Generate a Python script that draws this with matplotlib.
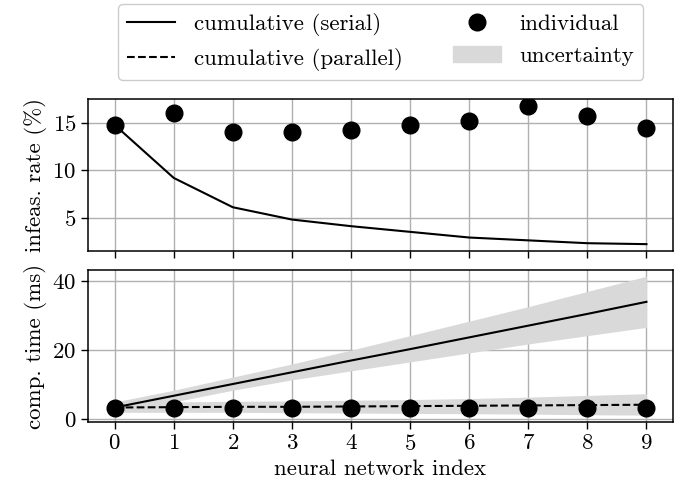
import numpy as np
import matplotlib
matplotlib.use("Agg")
import matplotlib.pyplot as plt
from matplotlib.lines import Line2D
from matplotlib.patches import Patch

plt.rcParams['font.family'] = 'serif'
plt.rcParams['font.serif'] = ['cmr10', 'DejaVu Serif']
plt.rcParams['mathtext.fontset'] = 'cm'
plt.rcParams['axes.formatter.use_mathtext'] = True
plt.rcParams['font.size'] = 16.5
plt.rcParams['axes.linewidth'] = 1.1
plt.rcParams['xtick.major.size'] = 5
plt.rcParams['ytick.major.size'] = 5
plt.rcParams['xtick.major.width'] = 1.0
plt.rcParams['ytick.major.width'] = 1.0

# data
nn_index = np.arange(10)
infeas_cumulative = [14.8, 9.2, 6.1, 4.8, 4.1, 3.5, 2.9, 2.6, 2.3, 2.2]
infeas_individual = [14.8, 16.1, 14.0, 14.1, 14.3, 14.8, 15.2, 16.8, 15.7, 14.5]

time_serial = [3.4, 6.8, 10.2, 13.6, 17.0, 20.3, 23.7, 27.1, 30.5, 34.0]
time_serial_lo = [2.0, 5.0, 8.4, 11.4, 14.0, 16.6, 19.2, 21.8, 24.2, 26.6]
time_serial_hi = [5.0, 8.4, 12.2, 16.0, 20.0, 24.2, 28.4, 32.6, 37.0, 41.4]
time_parallel = [3.4, 3.5, 3.6, 3.6, 3.7, 3.8, 3.9, 4.0, 4.1, 4.2]
time_parallel_lo = [2.0, 2.0, 2.0, 1.9, 1.8, 1.7, 1.6, 1.5, 1.3, 1.2]
time_parallel_hi = [5.0, 5.0, 5.2, 5.3, 5.5, 5.7, 6.0, 6.4, 6.9, 7.4]
time_individual = [3.4, 3.4, 3.4, 3.4, 3.4, 3.4, 3.4, 3.4, 3.4, 3.4]

band_col = '#d9d9d9'

fig, (ax1, ax2) = plt.subplots(2, 1, figsize=(6.91, 4.93), dpi=100, sharex=True)
fig.subplots_adjust(left=0.1274, right=0.974, top=0.799, bottom=0.144, hspace=0.125)

ax1.plot(nn_index, infeas_cumulative, 'k-', lw=1.5)
ax1.plot(nn_index, infeas_individual, 'ko', ms=12, ls='none')
ax1.set_ylabel('infeas. rate (%)')
ax1.set_yticks([5, 10, 15])
ax1.grid(True, color='#b0b0b0', lw=1.0)
ax1.set_axisbelow(True)

ax2.fill_between(nn_index, time_serial_lo, time_serial_hi, color=band_col, lw=0)
ax2.fill_between(nn_index, time_parallel_lo, time_parallel_hi, color=band_col, lw=0)
ax2.plot(nn_index, time_serial, 'k-', lw=1.5)
ax2.plot(nn_index, time_parallel, 'k--', lw=1.5)
ax2.plot(nn_index, time_individual, 'ko', ms=12, ls='none')
ax2.set_ylabel('comp. time (ms)')
ax2.set_ylim(-0.8, 43.2)
ax2.set_yticks([0, 20, 40])
ax2.set_xticks(nn_index)
ax2.set_xlabel('neural network index')
ax2.grid(True, color='#b0b0b0', lw=1.0)
ax2.set_axisbelow(True)

handles = [Line2D([], [], color='k', lw=1.5),
           Line2D([], [], color='k', lw=1.5, ls='--'),
           Line2D([], [], color='k', marker='o', ms=12, ls='none'),
           Patch(color=band_col)]
labels = ['cumulative (serial)', 'cumulative (parallel)', 'individual', 'uncertainty']
fig.legend(handles, labels, ncol=2,
           loc='upper center', bbox_to_anchor=(0.551, 0.992),
           columnspacing=2.2, handlelength=2.1, framealpha=1, borderaxespad=0.0)

fig.savefig('out.png', dpi=100)
